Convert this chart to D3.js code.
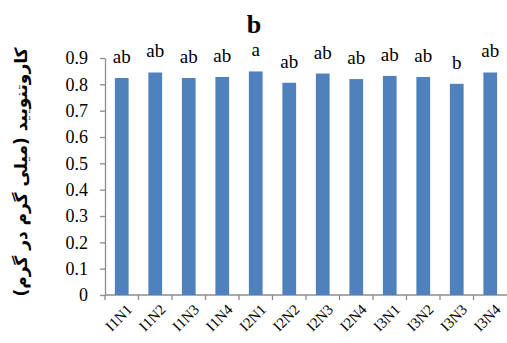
<!DOCTYPE html>
<html>
<head>
<meta charset="utf-8">
<script src="https://cdn.jsdelivr.net/npm/d3@7"></script>
<style>
  body { margin: 0; background: #fff; }
  svg { display: block; }
</style>
</head>
<body>
<div id="plot"></div>
<script>
const categories = ["I1N1", "I1N2", "I1N3", "I1N4", "I2N1", "I2N2", "I2N3", "I2N4", "I3N1", "I3N2", "I3N3", "I3N4"];
const values = [0.824, 0.845, 0.824, 0.828, 0.849, 0.806, 0.841, 0.820, 0.832, 0.828, 0.802, 0.845];
const letters = ["ab", "ab", "ab", "ab", "a", "ab", "ab", "ab", "ab", "ab", "b", "ab"];
const yTicks = [0, 0.1, 0.2, 0.3, 0.4, 0.5, 0.6, 0.7, 0.8, 0.9];

const W = 507, H = 343;
const margin = {left: 105, right: 507, top: 58, bottom: 295};
const serif = "'Liberation Serif', 'DejaVu Serif', serif";

const svg = d3.select("#plot")
  .append("svg")
    .attr("width", W)
    .attr("height", H);

const x = d3.scaleBand()
  .domain(categories)
  .range([margin.left, margin.right])
  .paddingInner(0.59)
  .paddingOuter(0.295);

const y = d3.scaleLinear()
  .domain([0, 0.9])
  .range([margin.bottom, margin.top]);

// y axis
const yAxis = svg.append("g")
  .attr("transform", `translate(${margin.left},0)`)
  .call(d3.axisLeft(y).tickValues(yTicks).tickSize(5).tickSizeOuter(0)
    .tickFormat(d => d === 0 ? "0" : d3.format(".1f")(d)));
yAxis.attr("font-family", serif).attr("font-size", 18);
yAxis.selectAll("path, line").attr("stroke", "#8c8c8c").attr("stroke-width", 1.3);
yAxis.selectAll("text")
  .attr("x", -17)
  .attr("fill", "#000");

// x axis with ticks at category boundaries
const xAxis = svg.append("g")
  .attr("transform", `translate(0,${margin.bottom})`)
  .attr("font-family", serif)
  .attr("font-size", 15);
xAxis.append("line")
  .attr("x1", margin.left).attr("x2", margin.right)
  .attr("stroke", "#8c8c8c").attr("stroke-width", 1.3);
const bounds = categories.map(c => x(c) + x.bandwidth() / 2 - x.step() / 2);
xAxis.selectAll("line.tick")
  .data(bounds)
  .join("line")
    .attr("class", "tick")
    .attr("x1", d => d).attr("x2", d => d)
    .attr("y1", 0).attr("y2", 5)
    .attr("stroke", "#8c8c8c").attr("stroke-width", 1.3);
xAxis.selectAll("text")
  .data(categories)
  .join("text")
    .attr("transform", d => `translate(${x(d) + x.bandwidth() / 2 + 4},8) rotate(-45)`)
    .attr("text-anchor", "end")
    .attr("dy", "0.7em")
    .attr("fill", "#000")
    .text(d => d);

// bars
svg.selectAll("rect.bar")
  .data(categories)
  .join("rect")
    .attr("class", "bar")
    .attr("x", d => x(d))
    .attr("y", (d, i) => y(values[i]))
    .attr("width", x.bandwidth())
    .attr("height", (d, i) => margin.bottom - y(values[i]))
    .attr("fill", "#4f81bd");

// significance letters
svg.selectAll("text.letter")
  .data(categories)
  .join("text")
    .attr("class", "letter")
    .attr("x", d => x(d) + x.bandwidth() / 2)
    .attr("y", (d, i) => y(values[i]) - 15)
    .attr("text-anchor", "middle")
    .attr("font-family", serif)
    .attr("font-size", 19)
    .attr("fill", "#000")
    .text((d, i) => letters[i]);

// title
svg.append("text")
  .attr("x", 254)
  .attr("y", 33)
  .attr("text-anchor", "middle")
  .attr("font-family", serif)
  .attr("font-size", 26)
  .attr("font-weight", "bold")
  .text("b");

// y label
svg.append("text")
  .attr("transform", "translate(21,172) rotate(-90)")
  .attr("text-anchor", "middle")
  .attr("dy", "0.35em")
  .attr("font-family", "'DejaVu Sans', sans-serif")
  .attr("font-size", 17)
  .attr("font-weight", "bold")
  .attr("direction", "rtl")
  .text("کاروتنویید (میلی گرم در گرم)");
</script>
</body>
</html>
